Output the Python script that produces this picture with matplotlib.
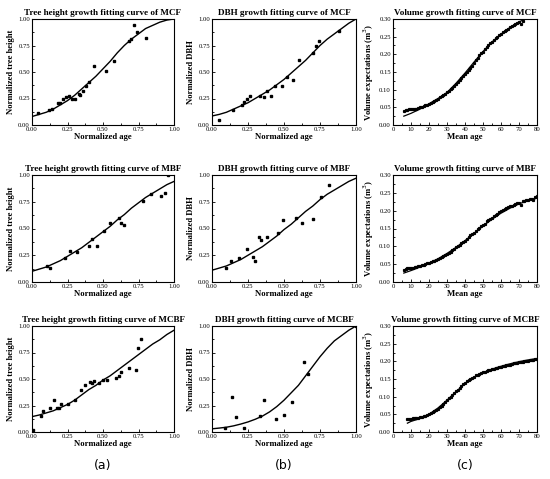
import matplotlib
matplotlib.use("Agg")
import matplotlib.pyplot as plt
from matplotlib.ticker import MultipleLocator, FormatStrFormatter

plt.rcParams['font.family'] = ['Liberation Serif', 'DejaVu Serif']

# ---------------- data ----------------
fit_x = [0.0, 0.05, 0.1, 0.15, 0.2, 0.25, 0.3, 0.35, 0.4, 0.45, 0.5,
         0.55, 0.6, 0.65, 0.7, 0.75, 0.8, 0.85, 0.9, 0.95, 1.0]

# Tree height, MCF
th_mcf_x = [0.04, 0.12, 0.14, 0.18, 0.20, 0.22, 0.24, 0.26, 0.28, 0.30, 0.33, 0.34,
            0.36, 0.38, 0.40, 0.44, 0.52, 0.58, 0.68, 0.70, 0.72, 0.74, 0.80]
th_mcf_y = [0.11, 0.14, 0.15, 0.21, 0.21, 0.25, 0.26, 0.27, 0.25, 0.25, 0.29, 0.28,
            0.32, 0.37, 0.41, 0.56, 0.51, 0.60, 0.79, 0.81, 0.94, 0.88, 0.82]
th_mcf_fit = [0.08, 0.10, 0.12, 0.15, 0.19, 0.23, 0.28, 0.34, 0.40, 0.46, 0.53,
              0.60, 0.68, 0.75, 0.81, 0.86, 0.91, 0.94, 0.97, 0.99, 1.00]

# DBH, MCF
dbh_mcf_x = [0.05, 0.145, 0.21, 0.225, 0.24, 0.265, 0.33, 0.36, 0.385, 0.41, 0.44,
             0.485, 0.52, 0.56, 0.605, 0.70, 0.72, 0.74, 0.88]
dbh_mcf_y = [0.05, 0.14, 0.19, 0.22, 0.25, 0.27, 0.27, 0.26, 0.32, 0.27, 0.37,
             0.37, 0.45, 0.42, 0.61, 0.675, 0.75, 0.79, 0.89]
dbh_mcf_fit = [0.085, 0.10, 0.12, 0.15, 0.18, 0.21, 0.25, 0.29, 0.33, 0.38, 0.43,
               0.49, 0.55, 0.61, 0.68, 0.75, 0.81, 0.86, 0.91, 0.96, 1.00]

# Tree height, MBF
th_mbf_x = [0.105, 0.13, 0.235, 0.27, 0.32, 0.40, 0.42, 0.46, 0.505, 0.55, 0.61,
            0.625, 0.645, 0.78, 0.84, 0.905, 0.94, 0.96]
th_mbf_y = [0.15, 0.13, 0.225, 0.29, 0.28, 0.34, 0.40, 0.34, 0.48, 0.55, 0.60,
            0.55, 0.53, 0.755, 0.82, 0.80, 0.835, 1.00]
th_mbf_fit = [0.10, 0.12, 0.14, 0.17, 0.20, 0.24, 0.28, 0.32, 0.37, 0.42, 0.47,
              0.52, 0.58, 0.63, 0.69, 0.74, 0.79, 0.83, 0.87, 0.91, 0.94]

# DBH, MBF
dbh_mbf_x = [0.095, 0.135, 0.19, 0.245, 0.285, 0.30, 0.325, 0.34, 0.38, 0.46, 0.49,
             0.585, 0.625, 0.70, 0.755, 0.81]
dbh_mbf_y = [0.13, 0.20, 0.225, 0.31, 0.23, 0.20, 0.42, 0.39, 0.42, 0.46, 0.58,
             0.60, 0.55, 0.59, 0.79, 0.91]
dbh_mbf_fit = [0.11, 0.13, 0.15, 0.18, 0.21, 0.25, 0.29, 0.33, 0.38, 0.43, 0.49,
               0.54, 0.60, 0.66, 0.71, 0.77, 0.82, 0.86, 0.90, 0.94, 0.97]

# Tree height, MCBF
th_mcbf_x = [0.01, 0.06, 0.075, 0.125, 0.155, 0.175, 0.19, 0.205, 0.25, 0.30, 0.345,
             0.375, 0.405, 0.42, 0.44, 0.47, 0.50, 0.53, 0.59, 0.61, 0.625, 0.685,
             0.73, 0.745, 0.77]
th_mcbf_y = [0.015, 0.155, 0.20, 0.23, 0.30, 0.225, 0.225, 0.26, 0.26, 0.30, 0.40,
             0.445, 0.47, 0.46, 0.48, 0.465, 0.495, 0.495, 0.505, 0.53, 0.565, 0.605,
             0.585, 0.79, 0.875]
th_mcbf_fit = [0.145, 0.16, 0.18, 0.20, 0.23, 0.26, 0.30, 0.35, 0.40, 0.44, 0.49,
               0.53, 0.58, 0.63, 0.68, 0.73, 0.78, 0.83, 0.87, 0.92, 0.96]

# DBH, MCBF
dbh_mcbf_x = [0.09, 0.14, 0.17, 0.225, 0.335, 0.36, 0.445, 0.50, 0.555, 0.64, 0.665, 1.00]
dbh_mcbf_y = [0.035, 0.33, 0.14, 0.035, 0.15, 0.30, 0.12, 0.16, 0.28, 0.665, 0.545, 1.00]
dbh_mcbf_fit = [0.03, 0.037, 0.045, 0.058, 0.075, 0.095, 0.12, 0.15, 0.19, 0.24, 0.30,
                0.37, 0.44, 0.53, 0.62, 0.71, 0.79, 0.86, 0.91, 0.96, 1.00]

# Volume, MCF (age 6..72)
vol_mcf_age = list(range(6, 73))
vol_mcf = [0.040, 0.042, 0.043, 0.044, 0.044, 0.044, 0.045, 0.046, 0.047, 0.050,
           0.052, 0.054, 0.056, 0.058, 0.060, 0.063, 0.066, 0.069, 0.072, 0.075,
           0.079, 0.082, 0.086, 0.089, 0.093, 0.097, 0.102, 0.106, 0.111, 0.116,
           0.121, 0.127, 0.132, 0.138, 0.143, 0.149, 0.156, 0.162, 0.168, 0.176,
           0.183, 0.190, 0.197, 0.203, 0.208, 0.214, 0.220, 0.226, 0.231, 0.236,
           0.240, 0.245, 0.250, 0.254, 0.258, 0.262, 0.266, 0.270, 0.273, 0.276,
           0.279, 0.283, 0.286, 0.289, 0.291, 0.285, 0.293]
vol_mcf_fit_age = [6, 10, 15, 20, 25, 30, 35, 40, 45, 50, 55, 60, 65, 70, 75]
vol_mcf_fit = [0.025, 0.033, 0.045, 0.060, 0.075, 0.092, 0.118, 0.147, 0.178,
               0.208, 0.235, 0.257, 0.276, 0.292, 0.303]

# Volume, MBF (age 6..80)
vol_mbf_age = list(range(6, 81))
vol_mbf = [0.035, 0.037, 0.039, 0.040, 0.040, 0.039, 0.041, 0.042, 0.044, 0.045,
           0.047, 0.049, 0.050, 0.052, 0.054, 0.056, 0.058, 0.060, 0.062, 0.064,
           0.067, 0.070, 0.073, 0.075, 0.078, 0.081, 0.085, 0.089, 0.093, 0.097,
           0.101, 0.105, 0.109, 0.112, 0.116, 0.121, 0.126, 0.131, 0.134, 0.138,
           0.143, 0.148, 0.152, 0.156, 0.160, 0.164, 0.170, 0.174, 0.177, 0.180,
           0.184, 0.188, 0.191, 0.197, 0.200, 0.203, 0.205, 0.207, 0.209, 0.212,
           0.214, 0.216, 0.219, 0.221, 0.222, 0.216, 0.226, 0.228, 0.229, 0.230,
           0.232, 0.234, 0.231, 0.238, 0.240]
vol_mbf_fit_age = [6, 10, 15, 20, 25, 30, 35, 40, 45, 50, 55, 60, 65, 70, 75, 80]
vol_mbf_fit = [0.025, 0.032, 0.042, 0.053, 0.065, 0.080, 0.097, 0.116, 0.136,
               0.157, 0.176, 0.193, 0.207, 0.219, 0.228, 0.235]

# Volume, MCBF (age 8..80)
vol_mcbf_age = list(range(8, 81))
vol_mcbf = [0.037, 0.038, 0.038, 0.039, 0.039, 0.040, 0.041, 0.042, 0.043, 0.044,
            0.045, 0.047, 0.050, 0.053, 0.056, 0.059, 0.062, 0.066, 0.071, 0.075,
            0.080, 0.085, 0.090, 0.095, 0.100, 0.105, 0.110, 0.115, 0.120, 0.125,
            0.130, 0.135, 0.139, 0.143, 0.147, 0.151, 0.154, 0.157, 0.160, 0.162,
            0.165, 0.167, 0.169, 0.171, 0.173, 0.175, 0.176, 0.178, 0.179, 0.181,
            0.182, 0.184, 0.185, 0.186, 0.187, 0.189, 0.190, 0.191, 0.192, 0.194,
            0.195, 0.196, 0.197, 0.198, 0.199, 0.200, 0.201, 0.202, 0.203, 0.204,
            0.205, 0.206, 0.208]
vol_mcbf_fit_age = [8, 10, 15, 20, 25, 30, 35, 40, 45, 50, 55, 60, 65, 70, 75, 80]
vol_mcbf_fit = [0.025, 0.030, 0.038, 0.050, 0.068, 0.090, 0.114, 0.137, 0.155,
                0.168, 0.178, 0.186, 0.193, 0.199, 0.204, 0.208]

panel_labels = ['(a)', '(b)', '(c)']

# ---------------- layout ----------------
W, H = 550, 479
fig = plt.figure(figsize=(W / 100, H / 100), dpi=100)

rows = [(19, 125), (175, 282), (326, 432)]
cols = [(32, 174), (212, 356), (393, 537)]


def make_ax(r, c):
    (t, b), (l, rgt) = rows[r], cols[c]
    return fig.add_axes([l / W, 1 - b / H, (rgt - l) / W, (b - t) / H])


def style(ax, title, xlabel, ylabel):
    ax.set_title(title, fontsize=6.6, fontweight='bold', pad=3)
    ax.set_xlabel(xlabel, fontsize=6.2, fontweight='bold', labelpad=1)
    ax.set_ylabel(ylabel, fontsize=6.2, fontweight='bold', labelpad=2)
    ax.tick_params(axis='both', which='both', direction='in', labelsize=4.8,
                   pad=1.5, width=0.6)
    ax.tick_params(which='major', length=2.5)
    ax.tick_params(which='minor', length=1.3)
    for s in ax.spines.values():
        s.set_linewidth(0.8)


def norm_panel(ax, px, py, fit, title, ylabel):
    ax.plot(px, py, 's', color='black', markersize=1.8, linestyle='none')
    ax.plot(fit_x, fit, '-', color='black', linewidth=1.0)
    ax.set_xlim(0, 1)
    ax.set_ylim(0, 1)
    ax.xaxis.set_major_locator(MultipleLocator(0.25))
    ax.yaxis.set_major_locator(MultipleLocator(0.25))
    ax.xaxis.set_minor_locator(MultipleLocator(0.125))
    ax.yaxis.set_minor_locator(MultipleLocator(0.125))
    ax.xaxis.set_major_formatter(FormatStrFormatter('%.2f'))
    ax.yaxis.set_major_formatter(FormatStrFormatter('%.2f'))
    style(ax, title, 'Normalized age', ylabel)


def vol_panel(ax, age, vol, fage, fvol, title):
    ax.plot(age, vol, 's', color='black', markersize=1.3, linestyle='none')
    ax.plot(fage, fvol, '-', color='black', linewidth=0.9)
    ax.set_xlim(0, 80)
    ax.set_ylim(0, 0.30)
    ax.xaxis.set_major_locator(MultipleLocator(10))
    ax.xaxis.set_minor_locator(MultipleLocator(5))
    ax.yaxis.set_major_locator(MultipleLocator(0.05))
    ax.yaxis.set_minor_locator(MultipleLocator(0.025))
    ax.yaxis.set_major_formatter(FormatStrFormatter('%.2f'))
    style(ax, title, 'Mean age', 'Volume expectations (m$^3$)')


norm_panel(make_ax(0, 0), th_mcf_x, th_mcf_y, th_mcf_fit,
           'Tree height growth fitting curve of MCF', 'Normalized tree height')
norm_panel(make_ax(0, 1), dbh_mcf_x, dbh_mcf_y, dbh_mcf_fit,
           'DBH growth fitting curve of MCF', 'Normalized DBH')
vol_panel(make_ax(0, 2), vol_mcf_age, vol_mcf, vol_mcf_fit_age, vol_mcf_fit,
          'Volume growth fitting curve of MCF')

norm_panel(make_ax(1, 0), th_mbf_x, th_mbf_y, th_mbf_fit,
           'Tree height growth fitting curve of MBF', 'Normalized tree height')
norm_panel(make_ax(1, 1), dbh_mbf_x, dbh_mbf_y, dbh_mbf_fit,
           'DBH growth fitting curve of MBF', 'Normalized DBH')
vol_panel(make_ax(1, 2), vol_mbf_age, vol_mbf, vol_mbf_fit_age, vol_mbf_fit,
          'Volume growth fitting curve of MBF')

norm_panel(make_ax(2, 0), th_mcbf_x, th_mcbf_y, th_mcbf_fit,
           'Tree height growth fitting curve of MCBF', 'Normalized tree height')
norm_panel(make_ax(2, 1), dbh_mcbf_x, dbh_mcbf_y, dbh_mcbf_fit,
           'DBH growth fitting curve of MCBF', 'Normalized DBH')
vol_panel(make_ax(2, 2), vol_mcbf_age, vol_mcbf, vol_mcbf_fit_age, vol_mcbf_fit,
          'Volume growth fitting curve of MCBF')

# panel letters under each column
for (l, rgt), lab in zip(cols, panel_labels):
    fig.text((l + rgt) / 2 / W, 1 - 465 / H, lab, ha='center', va='center',
             fontsize=9, family=['DejaVu Sans'])

fig.savefig('out.png', dpi=100)
